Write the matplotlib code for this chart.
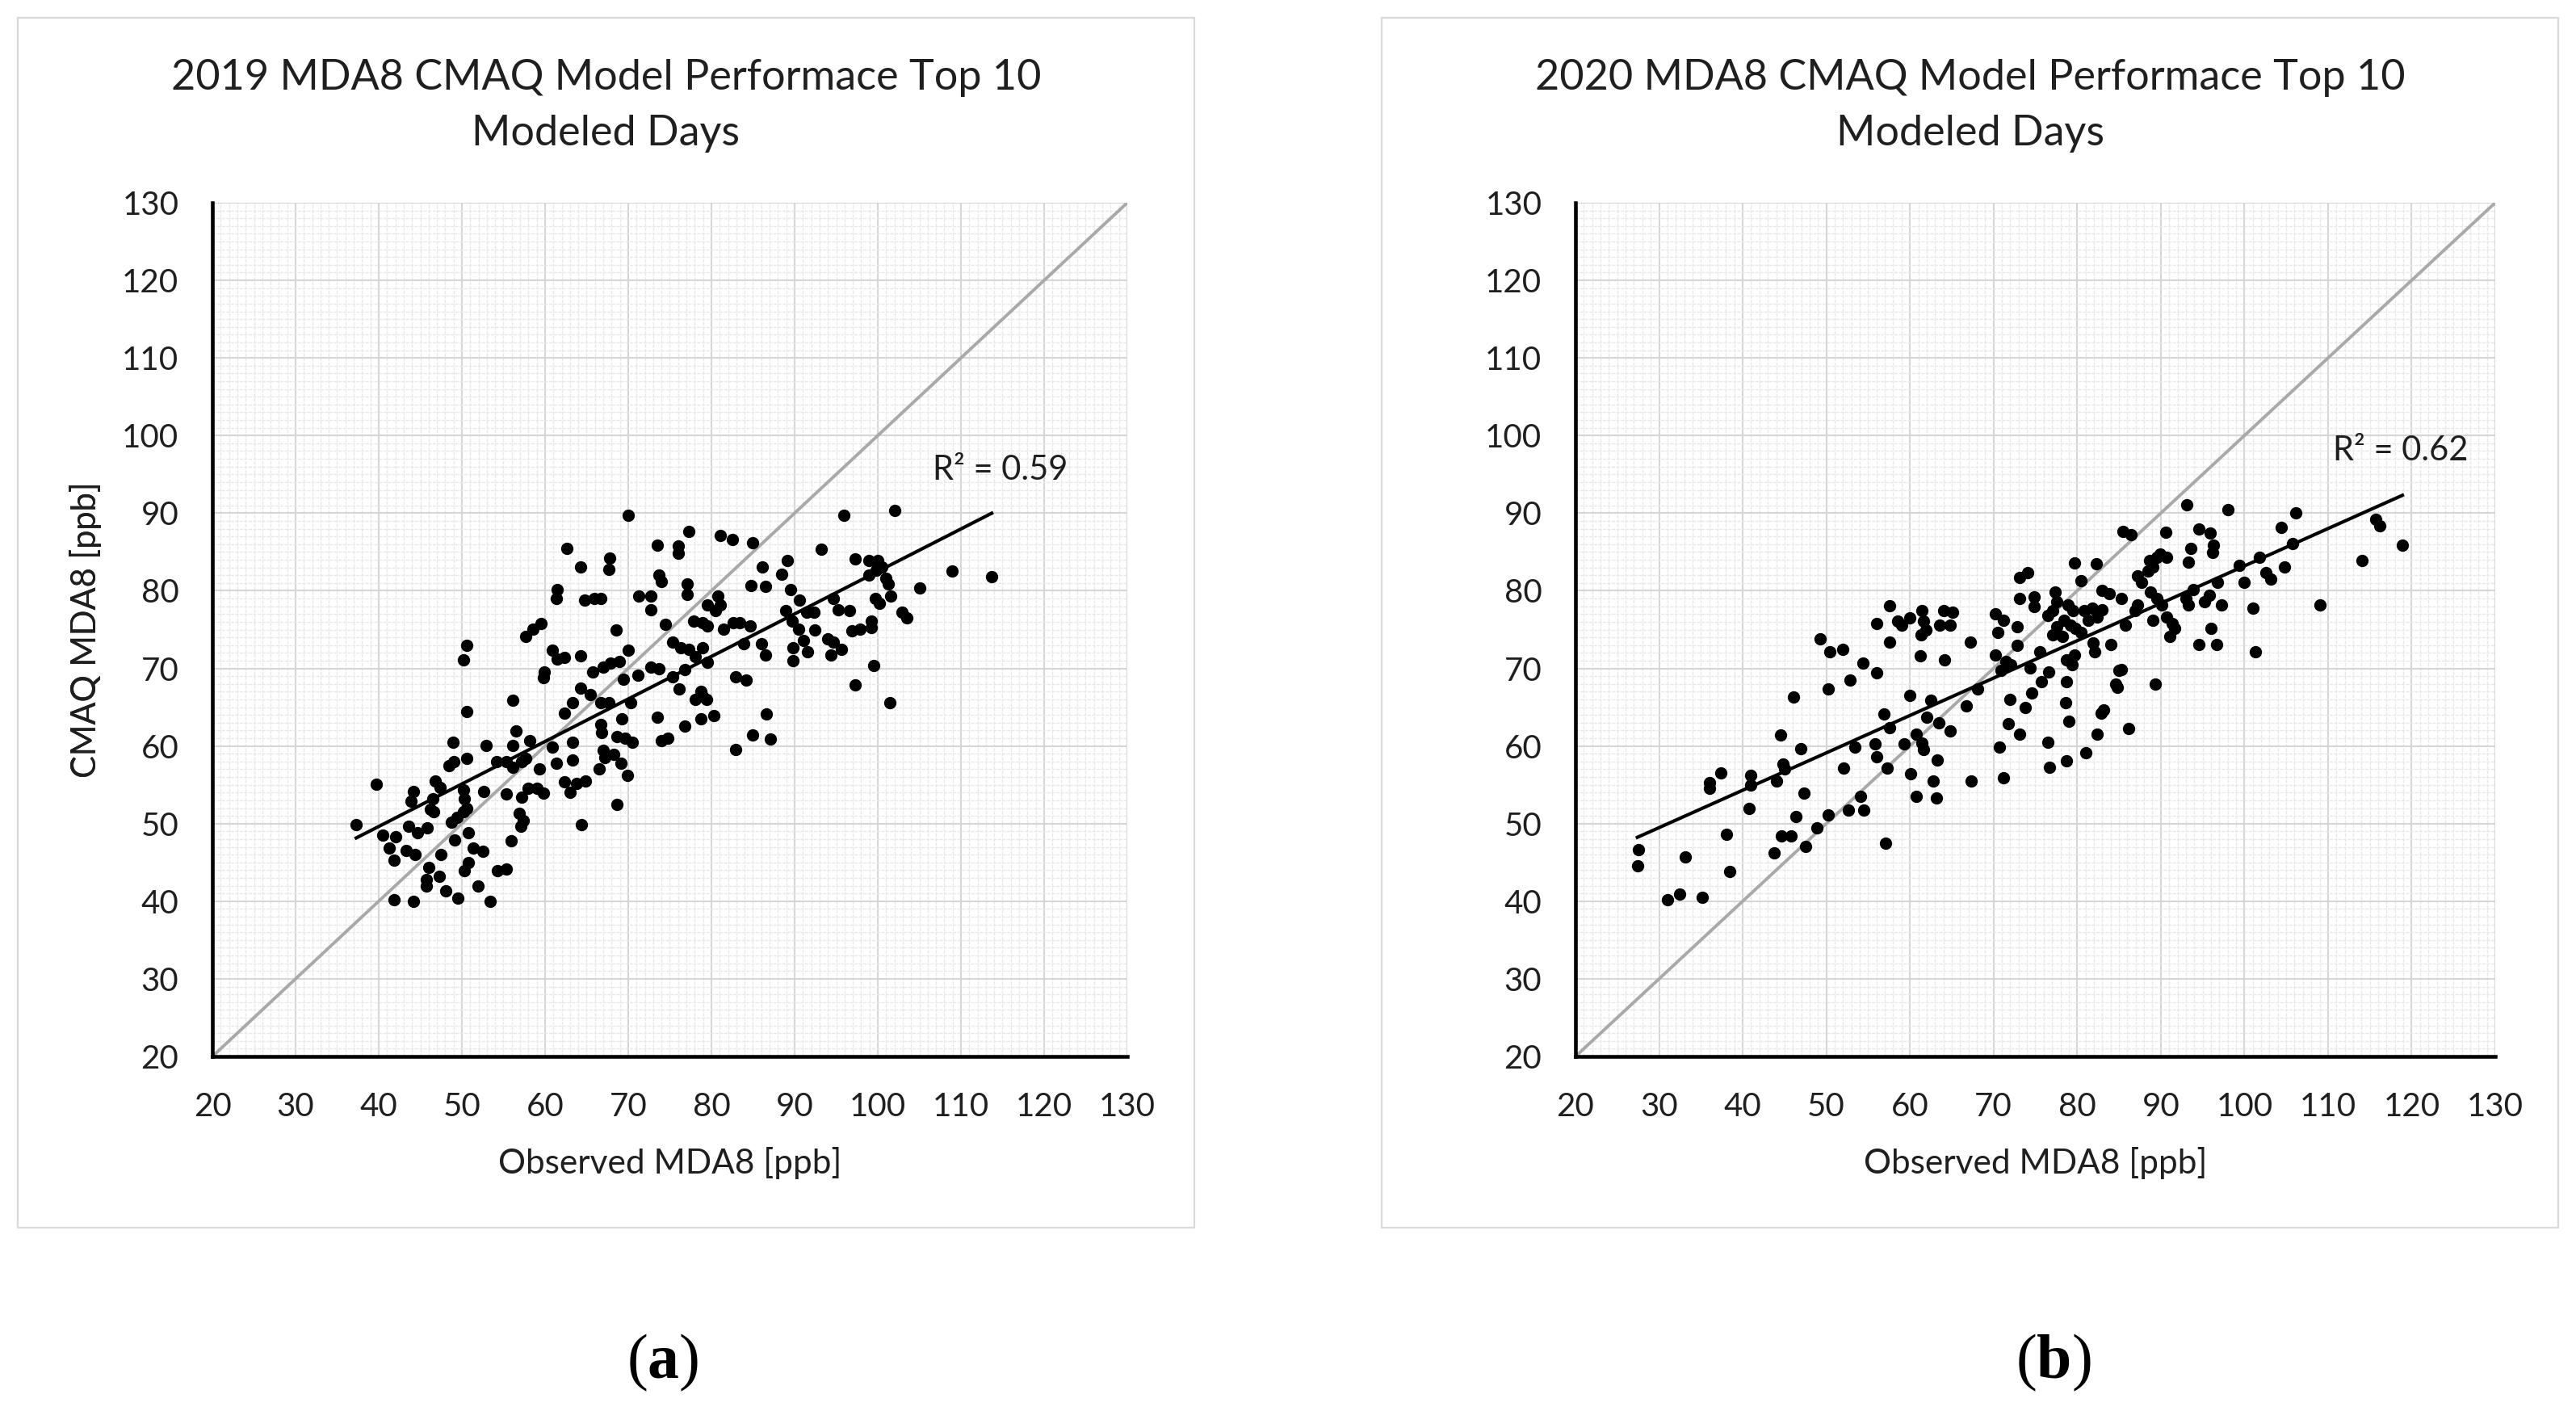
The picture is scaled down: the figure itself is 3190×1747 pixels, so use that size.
import numpy as np
import matplotlib
matplotlib.use("Agg")
import matplotlib.pyplot as plt
from matplotlib.patches import Rectangle
from matplotlib.ticker import MultipleLocator

plt.rcParams["font.family"] = ["Lato", "DejaVu Sans"]
plt.rcParams["mathtext.fontset"] = "custom"
plt.rcParams["mathtext.rm"] = "Liberation Serif"
plt.rcParams["mathtext.bf"] = "Liberation Serif:bold"

# 2019: observed vs modeled MDA8 (ppb)
obs_2019 = [70.0, 62.6, 64.3, 67.8, 67.7, 61.5, 61.4, 64.8, 65.9, 66.7, 71.3, 68.5, 57.7, 58.5, 59.5,
            50.6, 50.2, 60.9, 61.5, 62.3, 59.9, 59.8, 64.3, 70.0, 65.7, 67.0, 67.9, 68.9, 69.4, 71.2,
            64.3, 65.4, 63.3, 62.3, 66.7, 67.7, 70.3, 69.2, 66.7, 66.8, 56.1, 50.6, 56.5, 56.1, 48.9,
            52.9, 58.2, 60.9, 63.3, 63.3, 61.4, 68.6, 69.6, 70.5, 67.0, 67.2, 68.3, 69.1, 66.5, 69.9,
            68.6, 64.4, 62.3, 63.0, 63.8, 64.9, 50.6, 48.4, 49.0, 54.2, 55.3, 56.1, 57.2, 57.7, 59.3,
            39.7, 37.3, 44.2, 43.9, 46.8, 47.4, 46.5, 46.2, 46.6, 50.2, 50.3, 50.6, 50.2, 52.6, 55.3,
            57.2, 58.0, 59.0, 59.8, 56.9, 57.4, 57.1, 48.7, 49.4, 40.5, 42.0, 43.6, 44.7, 45.8, 41.3,
            41.8, 43.3, 44.4, 47.5, 49.1, 50.8, 51.4, 52.5, 55.9, 50.8, 50.3, 54.3, 55.3, 46.0, 45.7,
            45.7, 47.3, 48.1, 49.5, 51.9, 41.8, 44.2, 53.4,
            95.9, 102.0, 108.9, 113.7, 93.2, 73.5, 76.0, 76.0, 77.3, 81.1, 82.5, 85.0, 73.7, 74.0, 77.1,
            77.1, 86.1, 84.8, 86.5, 89.1, 88.4, 89.5, 97.3, 98.9, 100.0, 100.5, 101.0, 101.3, 99.8, 98.9,
            105.0, 101.6, 99.7, 100.2, 102.9, 103.5, 72.7, 72.7, 80.8, 79.5, 81.1, 80.5, 90.6, 91.5, 92.3,
            88.9, 89.7, 90.5, 94.7, 95.2, 96.6, 74.5, 77.9, 79.5, 78.9, 81.5, 82.6, 83.4, 84.7, 92.4,
            94.0, 94.7, 95.6, 94.4, 91.1, 89.8, 91.6, 89.8, 96.9, 97.9, 99.2, 99.2, 75.3, 76.3, 77.3,
            78.9, 78.1, 79.5, 76.8, 76.1, 72.7, 73.7, 75.3, 83.9, 86.0, 86.5, 82.9, 84.2, 99.5, 97.3,
            101.5, 78.7, 78.1, 79.4, 78.9, 73.5, 76.8, 78.7, 80.3, 74.0, 74.8, 82.9, 85.0, 86.6, 87.1]
mod_2019 = [89.7, 85.5, 83.1, 84.2, 82.8, 80.2, 79.0, 78.8, 79.0, 79.0, 79.3, 75.0, 74.1, 75.1, 75.8,
            73.0, 71.1, 72.3, 71.2, 71.4, 69.5, 68.8, 71.6, 72.3, 69.5, 70.2, 70.7, 70.9, 68.6, 69.1,
            67.5, 66.6, 65.6, 64.2, 65.6, 65.6, 65.6, 63.5, 62.8, 61.7, 65.9, 64.4, 61.9, 60.1, 60.5,
            60.1, 60.7, 59.9, 60.5, 58.2, 57.8, 61.2, 61.0, 60.5, 59.4, 58.5, 58.9, 57.8, 57.1, 56.2,
            52.5, 49.9, 55.4, 54.0, 55.2, 55.5, 58.4, 57.5, 58.0, 58.0, 58.0, 57.3, 58.0, 58.4, 57.0,
            55.1, 49.9, 54.1, 52.9, 55.5, 54.7, 53.2, 51.8, 51.5, 54.3, 53.2, 52.0, 51.5, 54.1, 53.8,
            53.4, 54.5, 54.6, 53.9, 51.3, 50.4, 49.7, 50.2, 50.8, 48.5, 48.3, 49.7, 48.8, 49.5, 46.8,
            45.3, 46.5, 46.0, 46.0, 47.9, 48.8, 46.8, 46.4, 47.8, 45.0, 43.9, 43.9, 44.1, 44.4, 42.8,
            42.0, 43.2, 41.3, 40.4, 42.0, 40.2, 40.0, 40.0,
            89.7, 90.3, 82.5, 81.8, 85.4, 85.9, 85.8, 84.8, 87.6, 87.1, 86.6, 86.2, 82.0, 81.2, 80.9,
            79.5, 83.1, 80.7, 80.6, 83.9, 82.1, 80.2, 84.1, 83.9, 83.9, 83.1, 81.6, 80.9, 82.6, 82.0,
            80.4, 79.3, 79.0, 78.4, 77.2, 76.5, 79.3, 77.6, 79.3, 78.2, 78.2, 77.4, 78.8, 77.2, 77.2,
            77.4, 76.1, 75.1, 79.0, 77.6, 77.4, 75.7, 76.1, 75.5, 75.9, 75.1, 75.9, 75.9, 75.5, 75.0,
            73.8, 73.4, 72.5, 71.7, 73.6, 72.7, 72.1, 71.0, 74.8, 75.1, 76.1, 75.3, 73.4, 72.7, 72.5,
            72.7, 71.5, 70.8, 69.8, 67.3, 70.2, 70.0, 68.9, 73.2, 73.2, 71.7, 68.9, 68.5, 70.4, 67.9,
            65.6, 67.0, 66.0, 66.0, 66.4, 63.7, 62.6, 63.5, 63.9, 60.7, 61.0, 59.5, 61.4, 64.1, 60.9]

# 2020
obs_2020 = [57.6, 56.0, 58.5, 59.0, 60.0, 61.4, 61.6, 61.9, 61.3, 64.0, 65.1, 64.8, 63.6, 57.6, 61.2,
            64.1, 67.2, 49.3, 50.4, 52.0, 54.4, 56.0, 52.8, 50.2, 46.1, 60.0, 66.7, 68.1, 67.3, 62.5,
            62.0, 63.5, 64.8, 60.8, 61.4, 61.6, 63.3, 56.9, 57.6, 53.4, 55.8, 56.0, 57.3, 59.3, 60.1,
            62.8, 60.8, 63.2, 46.9, 44.5, 44.0, 45.0, 44.8, 41.0, 41.0, 37.4, 36.0, 36.0, 40.8, 47.3,
            52.1, 54.1, 54.5, 52.6, 50.2, 57.1, 46.4, 48.9, 44.6, 45.8, 43.8, 47.5, 38.1, 33.1, 38.4,
            27.5, 27.4, 31.0, 32.5, 35.2,
            93.1, 98.0, 106.1, 104.4, 115.7, 116.2, 118.9, 114.1, 109.0, 85.5, 86.4, 90.6, 94.6, 95.9, 96.3,
            96.2, 93.6, 93.3, 88.7, 89.5, 89.9, 90.7, 89.1, 88.5, 87.2, 87.7, 79.7, 82.3, 80.5, 73.1,
            74.1, 73.1, 74.9, 74.9, 77.4, 77.6, 77.1, 76.5, 83.0, 83.8, 85.3, 78.9, 79.5, 78.4, 79.2,
            80.8, 81.8, 83.0, 82.4, 81.3, 77.6, 77.1, 78.2, 79.8, 80.5, 85.8, 87.2, 86.9, 88.8, 89.5,
            90.1, 89.1, 90.7, 91.4, 91.7, 91.1, 93.0, 93.3, 93.9, 95.2, 95.8, 96.8, 97.3, 99.4, 100.0,
            101.8, 102.6, 103.2, 104.8, 105.8, 101.0, 96.0, 94.6, 96.7, 101.3, 89.3, 81.9, 82.1, 84.0, 70.2,
            71.2, 70.5, 70.2, 72.8, 72.8, 71.5, 72.1, 70.9, 75.5, 74.4, 75.7, 74.6, 73.8, 76.6, 78.7,
            79.7, 79.4, 78.7, 78.6, 79.0, 72.0, 71.8, 73.1, 70.7, 71.2, 76.5, 76.7, 78.7, 81.0, 82.4,
            82.9, 83.2, 84.6, 85.0, 85.3, 84.8, 86.2]
mod_2020 = [78.1, 75.8, 76.1, 75.6, 76.5, 77.4, 76.1, 75.0, 74.3, 77.4, 77.2, 75.6, 75.6, 73.4, 71.6,
            71.1, 73.4, 73.8, 72.1, 72.5, 70.7, 69.4, 68.5, 67.4, 66.3, 66.5, 65.2, 67.4, 55.5, 65.9,
            63.7, 63.0, 61.9, 61.5, 60.4, 59.5, 58.2, 64.1, 62.4, 59.9, 60.3, 58.6, 57.2, 60.3, 56.4,
            55.5, 53.5, 53.3, 59.7, 61.4, 55.5, 57.0, 57.7, 56.2, 55.0, 56.5, 55.3, 54.6, 52.0, 53.9,
            57.2, 53.5, 51.7, 51.7, 51.1, 47.5, 50.9, 49.5, 48.4, 48.4, 46.2, 47.1, 48.6, 45.7, 43.8,
            46.6, 44.6, 40.2, 40.9, 40.5,
            91.1, 90.5, 90.0, 88.2, 89.2, 88.4, 85.9, 83.9, 78.2, 87.6, 87.2, 87.5, 88.0, 87.4, 85.9,
            84.9, 85.5, 83.7, 83.9, 84.3, 84.7, 84.3, 83.1, 82.5, 81.9, 81.1, 83.6, 83.5, 81.3, 81.7,
            82.3, 79.0, 79.2, 78.0, 79.8, 78.6, 77.4, 76.8, 80.0, 79.6, 79.0, 78.2, 77.4, 76.2, 75.6,
            77.4, 77.8, 77.6, 76.6, 76.2, 75.4, 74.3, 74.1, 75.2, 74.6, 75.6, 78.2, 77.4, 79.8, 79.0,
            78.2, 76.2, 76.6, 75.8, 75.2, 74.1, 79.0, 78.2, 80.2, 78.6, 79.4, 81.1, 78.2, 83.3, 81.1,
            84.3, 82.3, 81.5, 83.1, 86.1, 77.8, 75.2, 73.1, 73.1, 72.1, 68.0, 73.3, 72.1, 73.1, 77.0,
            76.2, 74.6, 71.7, 75.4, 73.0, 70.9, 70.5, 69.7, 72.1, 70.1, 68.3, 66.8, 65.0, 69.5, 71.1,
            71.7, 70.5, 68.3, 65.6, 63.2, 66.0, 62.9, 61.5, 59.9, 55.9, 60.5, 57.3, 58.1, 59.1, 61.5,
            64.2, 64.6, 68.0, 69.7, 69.9, 67.6, 62.2]

titles = ["2019 MDA8 CMAQ Model Performace Top 10\nModeled Days",
          "2020 MDA8 CMAQ Model Performace Top 10\nModeled Days"]
r2_labels = ["R\u00b2 = 0.59", "R\u00b2 = 0.62"]
panel_labels = ["($\\mathbf{a}$)", "($\\mathbf{b}$)"]

W, H = 3190, 1747
fig = plt.figure(figsize=(W / 100, H / 100), dpi=100)

def fx(px):
    return px / W

def fy(py):
    return 1 - py / H

panels = [
    dict(box=(22, 1479), ax=(263, 1396), obs=obs_2019, mod=mod_2019, r2_pos=(106.6, 95.6), lab_x=821),
    dict(box=(1711, 3168), ax=(1951, 3090), obs=obs_2020, mod=mod_2020, r2_pos=(110.6, 98.0), lab_x=2543),
]
ax_top, ax_bot = 251, 1308

for i, p in enumerate(panels):
    # outer chart frame
    b0, b1 = p["box"]
    fig.patches.append(Rectangle((fx(b0), fy(1520)), fx(b1 - b0), (1520 - 22) / H,
                                 transform=fig.transFigure, fill=False, ec="#d9d9d9", lw=1.6))
    fig.text(fx((b0 + b1) / 2), fy(131), titles[i], ha="center", va="center",
             fontsize=37.5, linespacing=1.6, color="#1f1f1f")
    fig.text(fx(p["lab_x"]), fy(1687), panel_labels[i], ha="center", va="center",
             fontsize=56, family="Liberation Serif")

    a0, a1 = p["ax"]
    ax = fig.add_axes([fx(a0), fy(ax_bot), fx(a1 - a0), (ax_bot - ax_top) / H])
    ax.set_xlim(20, 130)
    ax.set_ylim(20, 130)
    ax.xaxis.set_major_locator(MultipleLocator(10))
    ax.yaxis.set_major_locator(MultipleLocator(10))
    ax.xaxis.set_minor_locator(MultipleLocator(1))
    ax.yaxis.set_minor_locator(MultipleLocator(1))
    ax.grid(which="minor", color="#e8e8e8", lw=1.0, ls=(0, (3, 1)))
    ax.grid(which="major", color="#d6d6d6", lw=1.5)
    ax.set_axisbelow(True)
    for s in ["top", "right"]:
        ax.spines[s].set_visible(False)
    for s in ["left", "bottom"]:
        ax.spines[s].set_linewidth(3.3)
        ax.spines[s].set_color("black")
    ax.tick_params(which="both", length=0)
    ax.tick_params(axis="x", labelsize=29, pad=32, labelcolor="#1f1f1f")
    ax.tick_params(axis="y", labelsize=29, pad=30, labelcolor="#1f1f1f")

    ax.plot([20, 130], [20, 130], color="#a9a9a9", lw=2.8, zorder=2)
    x = np.array(p["obs"])
    y = np.array(p["mod"])
    ax.plot(x, y, "o", color="black", ms=10, mec="black", zorder=3)
    k, c = np.polyfit(x, y, 1)
    xs = np.array([x.min(), x.max()])
    ax.plot(xs, k * xs + c, color="black", lw=3.0, zorder=4)
    ax.text(p["r2_pos"][0], p["r2_pos"][1], r2_labels[i], fontsize=30, ha="left", va="center",
            color="#1f1f1f")

    ax.set_xlabel("Observed MDA8 [ppb]", fontsize=30.5, color="#1f1f1f", va="center")
    ax.xaxis.set_label_coords(0.5, (ax_bot - 1440) / (ax_bot - ax_top))
    ax.set_ylabel("CMAQ MDA8 [ppb]", fontsize=30, color="#1f1f1f", va="center")
    ax.yaxis.set_label_coords((106 - a0) / (a1 - a0), 0.5)

fig.savefig("out.png", dpi=100)
